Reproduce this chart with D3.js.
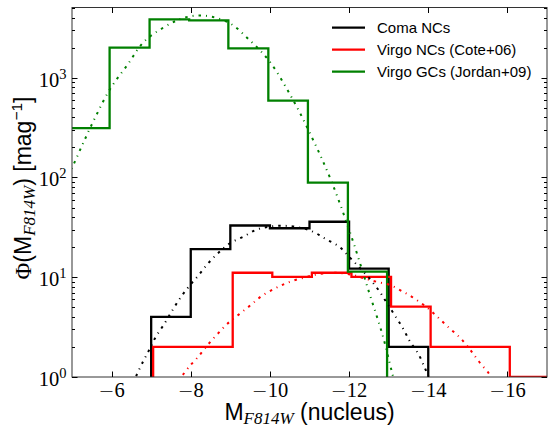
<!DOCTYPE html>
<html>
<head>
<meta charset="utf-8">
<script src="https://cdn.jsdelivr.net/npm/d3@7"></script>
<style>
  html, body { margin: 0; padding: 0; background: #fff; }
  svg { display: block; }
</style>
</head>
<body>
<div id="chart"></div>
<script>
// ---------------- data ----------------
const xTicks = [-6, -8, -10, -12, -14, -16];
const yMajorTicks = [1, 10, 100, 1000];
const yTickExponents = ["0", "1", "2", "3"];

// Coma NCs histogram (bin edges in mag, values in mag^-1)
const comaEdges  = [-7, -8, -9, -10, -11, -12, -13, -14];
const comaValues = [4.0, 19.1, 33, 31, 36, 12.2, 2.0];

// Virgo NCs (Cote+06)
const virgoNCEdges  = [-7.05, -8.06, -9.06, -10.06, -11.06, -12.06, -13.06, -14.06, -15.06, -16.06, -17.5];
const virgoNCValues = [2.0, 2.0, 11.1, 10.1, 11.1, 10.1, 5.07, 2.0, 2.0, 1.0];

// Virgo GCs (Jordan+09)
const virgoGCEdges  = [-4.5, -5.95, -6.96, -7.96, -8.95, -9.96, -10.96, -11.97, -12.96];
const virgoGCValues = [312, 2000, 3850, 3760, 1970, 590, 89, 11.4];

// fitted curves
const comaFitMag = [-6.62, -6.78, -6.95, -7.12, -7.33, -7.53, -7.73, -7.95, -8.20, -8.44, -8.70, -8.99, -9.33, -9.66, -10.0, -10.35, -10.7, -11.08, -11.42, -11.75, -12.01, -12.28, -12.53, -12.76, -12.95, -13.16, -13.36, -13.54, -13.74, -13.90, -14.02];
const comaFitVal = [1.02, 1.39, 1.87, 2.54, 3.40, 4.62, 6.16, 8.05, 10.5, 13.8, 17.6, 21.9, 25.5, 30.0, 32.2, 32.8, 31.8, 28.7, 24.0, 20.3, 15.9, 12.3, 9.55, 7.29, 5.56, 4.12, 3.08, 2.26, 1.73, 1.27, 0.98];

const virgoNCFitMag = [-7.80, -7.96, -8.18, -8.42, -8.67, -8.92, -9.21, -9.51, -9.81, -10.17, -10.46, -10.85, -11.21, -11.64, -12.11, -12.40, -12.70, -13.03, -13.36, -13.67, -13.99, -14.25, -14.53, -14.81, -15.05, -15.28, -15.52, -15.62];
const virgoNCFitVal = [1.05, 1.27, 1.58, 2.08, 2.68, 3.40, 4.22, 5.24, 6.57, 7.87, 8.87, 9.9, 10.7, 11.1, 10.5, 9.7, 9.0, 8.37, 7.17, 6.06, 4.89, 3.95, 3.10, 2.46, 1.90, 1.43, 1.10, 0.97];

const virgoGCFitMag = [-4.9, -5.00, -5.29, -5.61, -5.96, -6.40, -6.84, -7.48, -7.8, -8.15, -8.53, -9.01, -9.46, -9.98, -10.57, -11.07, -11.54, -12.06, -12.51, -12.85, -13.08, -13.2];
const virgoGCFitVal = [105, 125, 225, 418, 769, 1346, 2344, 3475, 3950, 4207, 4083, 3475, 2438, 1476, 614, 248, 94.6, 25.5, 6.96, 2.6, 1.13, 0.75];

const legendLabels = ["Coma NCs", "Virgo NCs (Cote+06)", "Virgo GCs (Jordan+09)"];
const seriesColors = ["#000000", "#ff0000", "#008000"];

// ---------------- layout ----------------
const W = 548, H = 426;
const pLeft = 72, pRight = 547, pTop = 7.5, pBottom = 377;

const svg = d3.select("#chart").append("svg").attr("width", W).attr("height", H);

const x = d3.scaleLinear().domain([-5, -17]).range([pLeft, pRight]);
const y = d3.scaleLog().domain([1, 5060]).range([pBottom, pTop]);

svg.append("clipPath").attr("id", "clip")
  .append("rect").attr("x", pLeft).attr("y", pTop).attr("width", pRight - pLeft).attr("height", pBottom - pTop);

const plot = svg.append("g").attr("clip-path", "url(#clip)");

function stepPath(edges, values) {
  const pts = [];
  pts.push([x(edges[0]), pBottom + 5]);
  for (let i = 0; i < values.length; i++) {
    pts.push([x(edges[i]), y(values[i])]);
    pts.push([x(edges[i + 1]), y(values[i])]);
  }
  pts.push([x(edges[edges.length - 1]), pBottom + 5]);
  return d3.line()(pts);
}

const hists = [
  [comaEdges, comaValues],
  [virgoNCEdges, virgoNCValues],
  [virgoGCEdges, virgoGCValues]
];
hists.forEach((h, i) => {
  plot.append("path")
    .attr("d", stepPath(h[0], h[1]))
    .attr("fill", "none")
    .attr("stroke", seriesColors[i])
    .attr("stroke-width", 2.3)
    .attr("stroke-linejoin", "miter");
});

const fits = [
  [comaFitMag, comaFitVal],
  [virgoNCFitMag, virgoNCFitVal],
  [virgoGCFitMag, virgoGCFitVal]
];
const fitLine = d3.line().x(d => x(d[0])).y(d => y(d[1])).curve(d3.curveCatmullRom.alpha(0.5));
fits.forEach((f, i) => {
  const pts = f[0].map((m, j) => [m, f[1][j]]);
  plot.append("path")
    .attr("d", fitLine(pts))
    .attr("fill", "none")
    .attr("stroke", seriesColors[i])
    .attr("stroke-width", 2)
    .attr("stroke-dasharray", "2.5,5,1,5");
});

// ---------------- axes ----------------
const axisColor = "#333";
const frame = svg.append("g");
frame.append("rect")
  .attr("x", pLeft).attr("y", pTop).attr("width", pRight - pLeft).attr("height", pBottom - pTop)
  .attr("fill", "none").attr("stroke", axisColor).attr("stroke-width", 1);

const serif = "'Liberation Serif', 'Times New Roman', serif";
const sans = "'Liberation Sans', Arial, Helvetica, sans-serif";

const majLen = 5.5, minLen = 3;
xTicks.forEach(t => {
  const px = Math.round(x(t)) + 0.5;
  frame.append("line").attr("x1", px).attr("x2", px).attr("y1", pBottom).attr("y2", pBottom - majLen).attr("stroke", "#000");
  frame.append("line").attr("x1", px).attr("x2", px).attr("y1", pTop).attr("y2", pTop + majLen).attr("stroke", "#000");
  const tx = svg.append("text")
    .attr("x", x(t)).attr("y", 397)
    .attr("text-anchor", "middle")
    .attr("font-family", serif)
    .attr("font-size", 20.5);
  tx.append("tspan").attr("font-family", "'DejaVu Sans', sans-serif").attr("font-weight", 300).attr("font-size", 19).text("\u2212");
  tx.append("tspan").text(Math.abs(t));
});

const yMinor = [];
for (let e = 0; e < 4; e++) for (let k = 2; k <= 9; k++) { const v = k * Math.pow(10, e); if (v < 5060) yMinor.push(v); }
yMinor.forEach(v => {
  const py = Math.round(y(v)) + 0.5;
  frame.append("line").attr("x1", pLeft).attr("x2", pLeft + minLen).attr("y1", py).attr("y2", py).attr("stroke", "#000");
  frame.append("line").attr("x1", pRight).attr("x2", pRight - minLen).attr("y1", py).attr("y2", py).attr("stroke", "#000");
});
yMajorTicks.forEach((v, i) => {
  const py = Math.round(y(v)) + 0.5;
  frame.append("line").attr("x1", pLeft).attr("x2", pLeft + majLen).attr("y1", py).attr("y2", py).attr("stroke", "#000");
  frame.append("line").attr("x1", pRight).attr("x2", pRight - majLen).attr("y1", py).attr("y2", py).attr("stroke", "#000");
  const t = svg.append("text")
    .attr("x", 66.5).attr("y", y(v) + 9)
    .attr("text-anchor", "end")
    .attr("font-family", serif)
    .attr("font-size", 20.5);
  t.append("tspan").text("10");
  t.append("tspan").attr("font-size", 14.5).attr("dy", -8).text(yTickExponents[i]);
});

// axis labels
const xl = svg.append("text")
  .attr("x", 309.5).attr("y", 420)
  .attr("text-anchor", "middle")
  .attr("font-family", sans).attr("font-size", 23);
xl.append("tspan").text("M");
xl.append("tspan").attr("font-family", serif).attr("font-style", "italic").attr("font-size", 17).attr("dy", 3.5).text("F814W");
xl.append("tspan").attr("dy", -3.5).text("\u00a0(nucleus)");

const yl = svg.append("text")
  .attr("transform", `translate(31,188) rotate(-90)`)
  .attr("text-anchor", "middle")
  .attr("font-family", sans).attr("font-size", 23);
yl.append("tspan").attr("font-family", serif).text("\u03a6");
yl.append("tspan").text("(M");
yl.append("tspan").attr("font-family", serif).attr("font-style", "italic").attr("font-size", 17).attr("dy", 3.5).text("F814W");
yl.append("tspan").attr("dy", -3.5).text(")\u00a0[mag");
yl.append("tspan").attr("font-size", 15.5).attr("dy", -9).text("\u22121");
yl.append("tspan").attr("dy", 9).text("]");

// legend
const legend = svg.append("g");
legendLabels.forEach((lab, i) => {
  const ly = 27.7 + i * 22;
  legend.append("line")
    .attr("x1", 332).attr("x2", 365).attr("y1", ly).attr("y2", ly)
    .attr("stroke", seriesColors[i]).attr("stroke-width", 2.3);
  legend.append("text")
    .attr("x", 377).attr("y", ly + 5.5)
    .attr("font-family", sans).attr("font-size", 15)
    .text(lab);
});
</script>
</body>
</html>
